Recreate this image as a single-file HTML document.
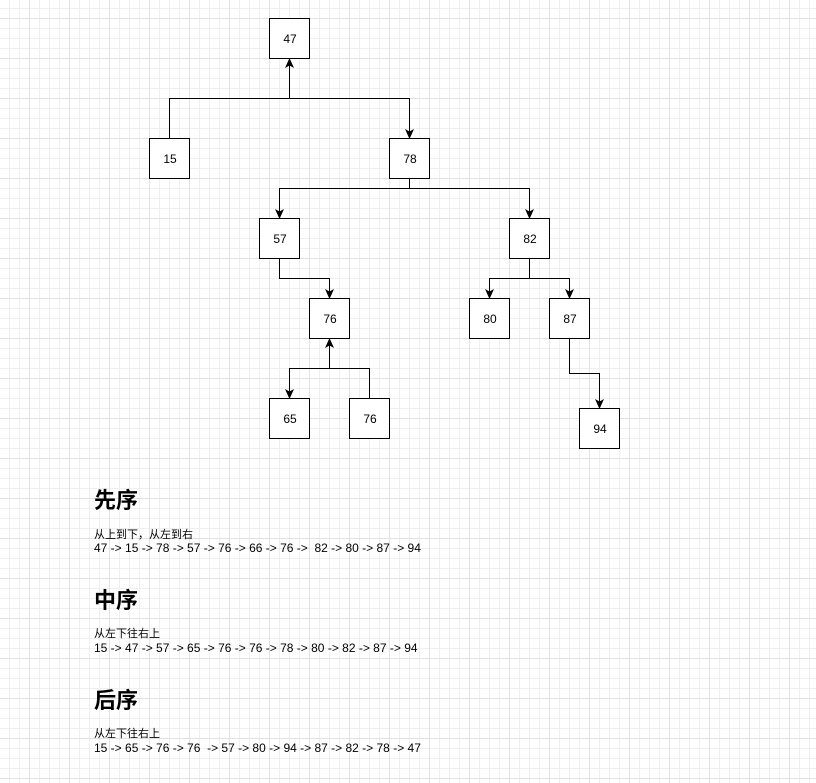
<!DOCTYPE html>
<html><head><meta charset="utf-8"><style>
html,body{margin:0;padding:0;}
body{width:816px;height:783px;position:relative;overflow:hidden;background:#fff;
background-image:
linear-gradient(to right,#e2e2e2 1px,transparent 1px),
linear-gradient(to bottom,#e2e2e2 1px,transparent 1px),
linear-gradient(to right,#efefef 1px,transparent 1px),
linear-gradient(to bottom,#efefef 1px,transparent 1px);
background-size:40px 40px,40px 40px,10px 10px,10px 10px;
background-position:29px 18px,29px 18px,9px 8px,9px 8px;
font-family:"Liberation Sans","Noto Sans CJK SC",sans-serif;}
svg{position:absolute;left:0;top:0;}
.t{position:absolute;left:94px;color:#000;white-space:pre;}
.h{font-size:22px;font-weight:bold;}
.c{font-size:11px;line-height:13px;}
.n{font-size:12px;line-height:13px;}
</style></head><body>
<svg width="816" height="783">
<defs><marker id="a" markerWidth="10" markerHeight="10" refX="9" refY="5" orient="auto" markerUnits="userSpaceOnUse"><path d="M0,0.5 L10,5 L0,9.5 L2.5,5 Z" fill="#000"/></marker></defs>
<g fill="#fff" stroke="#000" stroke-width="1">
<rect x="269.5" y="18.5" width="40" height="40"/>
<rect x="149.5" y="138.5" width="40" height="40"/>
<rect x="389.5" y="138.5" width="40" height="40"/>
<rect x="259.5" y="218.5" width="40" height="40"/>
<rect x="509.5" y="218.5" width="40" height="40"/>
<rect x="309.5" y="298.5" width="40" height="40"/>
<rect x="469.5" y="298.5" width="40" height="40"/>
<rect x="549.5" y="298.5" width="40" height="40"/>
<rect x="269.5" y="398.5" width="40" height="40"/>
<rect x="349.5" y="398.5" width="40" height="40"/>
<rect x="579.5" y="408.5" width="40" height="40"/>
</g>
<g fill="none" stroke="#000" stroke-width="1" marker-end="url(#a)">
<path d="M169.5,138 V98.5 H289.5 V59"/>
<path d="M289.5,98.5 H409.5 V138"/>
<path d="M409.5,179 V188.5 H279.5 V218"/>
<path d="M409.5,188.5 H529.5 V218"/>
<path d="M279.5,259 V278.5 H329.5 V298"/>
<path d="M529.5,259 V278.5 H489.5 V298"/>
<path d="M529.5,278.5 H569.5 V298"/>
<path d="M329.5,339 V368.5 H289.5 V398"/>
<path d="M369.5,398 V368.5 H329.5 V339"/>
<path d="M569.5,339 V373.5 H599.5 V408"/>
</g>
<g font-family="Liberation Sans, sans-serif" font-size="12" text-anchor="middle" fill="#000">
<text x="290" y="43">47</text>
<text x="170" y="163">15</text>
<text x="410" y="163">78</text>
<text x="280" y="243">57</text>
<text x="530" y="243">82</text>
<text x="330" y="323">76</text>
<text x="490" y="323">80</text>
<text x="570" y="323">87</text>
<text x="290" y="423">65</text>
<text x="370" y="423">76</text>
<text x="600" y="433">94</text>
</g>
</svg>
<div class="t h" style="top:483px">先序</div>
<div class="t c" style="top:529px">从上到下，从左到右</div>
<div class="t n" style="top:542px">47 -&gt; 15 -&gt; 78 -&gt; 57 -&gt; 76 -&gt; 66 -&gt; 76 -&gt;  82 -&gt; 80 -&gt; 87 -&gt; 94</div>
<div class="t h" style="top:583px">中序</div>
<div class="t c" style="top:628px">从左下往右上</div>
<div class="t n" style="top:642px">15 -&gt; 47 -&gt; 57 -&gt; 65 -&gt; 76 -&gt; 76 -&gt; 78 -&gt; 80 -&gt; 82 -&gt; 87 -&gt; 94</div>
<div class="t h" style="top:683px">后序</div>
<div class="t c" style="top:728px">从左下往右上</div>
<div class="t n" style="top:742px">15 -&gt; 65 -&gt; 76 -&gt; 76  -&gt; 57 -&gt; 80 -&gt; 94 -&gt; 87 -&gt; 82 -&gt; 78 -&gt; 47</div>
</body></html>
